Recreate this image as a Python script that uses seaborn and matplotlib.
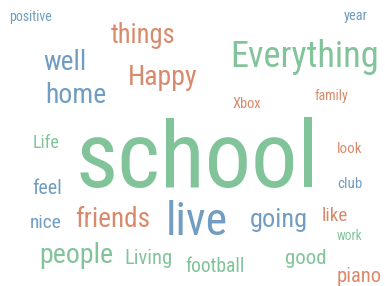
import matplotlib
matplotlib.use("Agg")
import matplotlib.pyplot as plt
from matplotlib import font_manager
import seaborn as sns

# ---- data ----
words = ["school", "live", "Everything", "well", "friends", "Happy", "home",
         "things", "going", "people", "football", "good", "piano", "feel",
         "like", "Living", "nice", "Life", "look", "club", "family", "Xbox",
         "work", "year", "positive"]
counts = [103, 51, 38, 30, 29, 29, 29, 28.5, 29, 29, 23, 23, 22.5, 21.5,
          21.5, 21, 20, 18.5, 16, 16, 15.5, 15, 15, 14, 12.5]
groups = ["green", "blue", "green", "blue", "orange", "orange", "blue",
          "orange", "blue", "green", "green", "green", "orange", "blue",
          "orange", "green", "blue", "green", "orange", "blue", "orange",
          "orange", "green", "blue", "blue"]

# ---- layout (pixel positions of left edge / baseline, target widths) ----
x_left = [75, 166, 230, 43, 75, 128, 45, 111, 250, 39, 185, 285, 337, 32,
          322, 124, 30, 33, 337, 337, 314, 233, 337, 344, 9]
y_base = [187, 235, 67, 69.5, 227.3, 85, 103.3, 43, 227.3, 262.7, 271.7,
          264, 281.7, 194, 220.7, 264, 228.3, 148.3, 153.3, 188.3, 100,
          108, 240, 20, 20.7]
w_fit = [244, 62, 149, 43, 75, 70, 61, 65, 58, 74, 60, 41.7, 45, 30,
         26, 48, 32, 27, 25, 25, 34, 29, 26, 24, 43]

palette = {"green": "#82c49a", "orange": "#da8a6c", "blue": "#709dc1"}

sns.set_theme(style="white")
names = {f.name for f in font_manager.fontManager.ttflist}
family = next((f for f in ["Liberation Sans Narrow", "Roboto Condensed",
                           "Archivo Narrow"] if f in names), "Liberation Sans")
plt.rcParams["font.family"] = [family, "DejaVu Sans"]

W, H, DPI = 385, 286, 100
fig = plt.figure(figsize=(W / DPI, H / DPI), dpi=DPI)
ax = fig.add_axes([0, 0, 1, 1])
ax.set_xlim(0, W)
ax.set_ylim(H, 0)
ax.axis("off")
fig.patch.set_facecolor("white")

renderer = fig.canvas.get_renderer()
for w, c, g, x, y, tw in zip(words, counts, groups, x_left, y_base, w_fit):
    size = c * 72 / DPI
    t = ax.text(x, y, w, fontsize=size, color=palette[g],
                ha="left", va="baseline")
    mw = t.get_window_extent(renderer=renderer).width
    if mw > 0:
        t.set_fontsize(size * tw / mw)

fig.savefig("out.png", dpi=DPI, facecolor="white")
